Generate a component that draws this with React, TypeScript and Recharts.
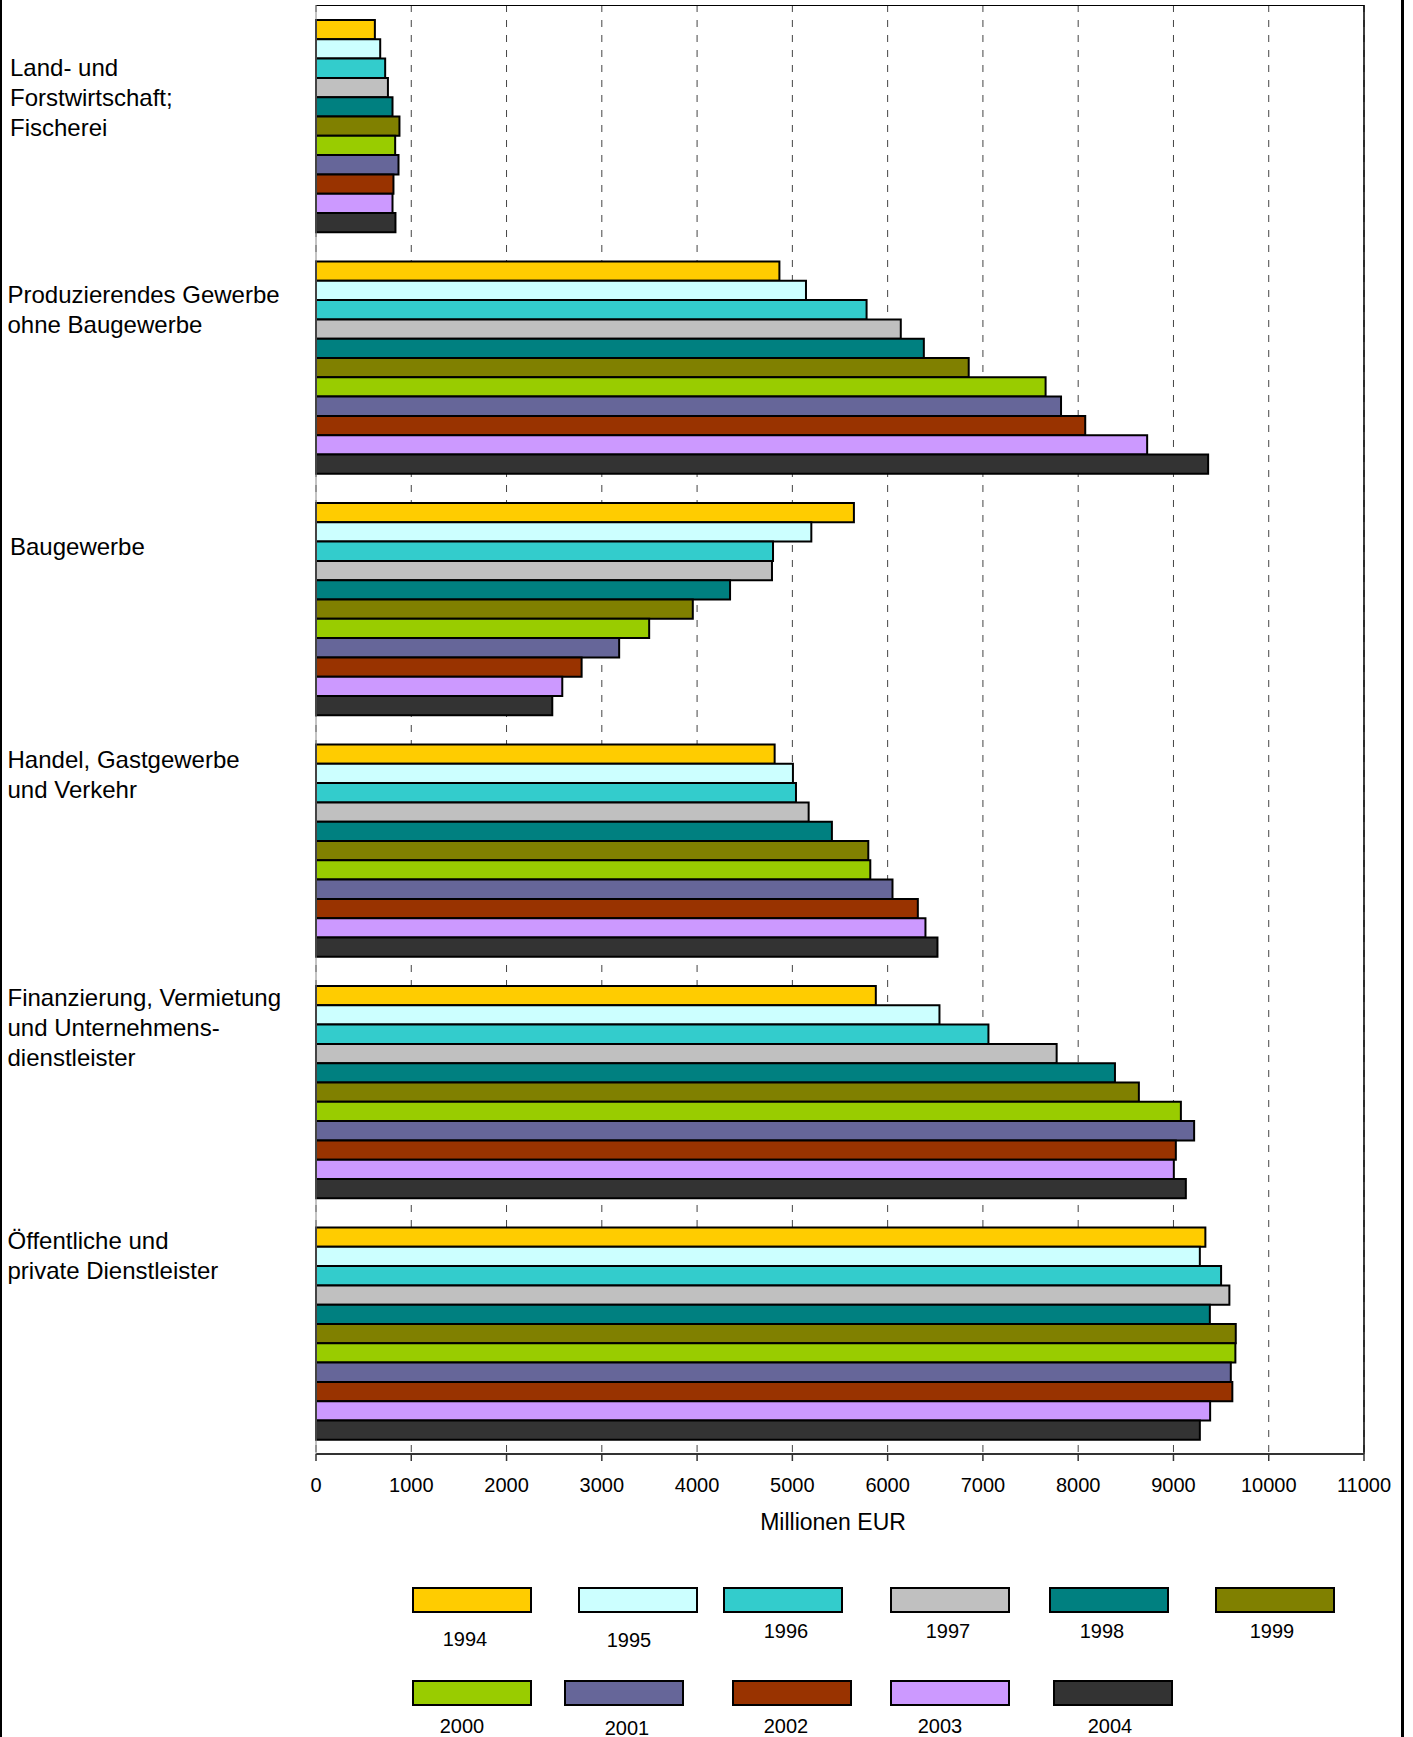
import React from 'react';
import { BarChart, Bar, XAxis, YAxis, CartesianGrid, ReferenceLine, Legend } from 'recharts';

// ---------- data ----------
const categories = [
  'Land- und\nForstwirtschaft;\nFischerei',
  'Produzierendes Gewerbe\nohne Baugewerbe',
  'Baugewerbe',
  'Handel, Gastgewerbe\nund Verkehr',
  'Finanzierung, Vermietung\nund Unternehmens-\ndienstleister',
  'Öffentliche und\nprivate Dienstleister',
];

const years = ['1994', '1995', '1996', '1997', '1998', '1999', '2000', '2001', '2002', '2003', '2004'];

const v1994 = [618, 4864, 5646, 4814, 5876, 9335];
const v1995 = [674, 5143, 5199, 5006, 6544, 9277];
const v1996 = [726, 5779, 4797, 5038, 7058, 9500];
const v1997 = [755, 6138, 4786, 5171, 7774, 9587];
const v1998 = [803, 6380, 4346, 5415, 8386, 9382];
const v1999 = [876, 6851, 3955, 5797, 8637, 9654];
const v2000 = [831, 7658, 3497, 5818, 9078, 9650];
const v2001 = [866, 7820, 3182, 6051, 9217, 9602];
const v2002 = [813, 8074, 2788, 6317, 9025, 9618];
const v2003 = [803, 8724, 2585, 6397, 9004, 9385];
const v2004 = [834, 9364, 2480, 6523, 9130, 9277];

const xTicks = [0, 1000, 2000, 3000, 4000, 5000, 6000, 7000, 8000, 9000, 10000, 11000];
const axisTitle = 'Millionen EUR';

// ---------- styles ----------
const seriesValues = [v1994, v1995, v1996, v1997, v1998, v1999, v2000, v2001, v2002, v2003, v2004];
const colors = [
  '#FFCC00', '#CCFFFF', '#33CCCC', '#C0C0C0', '#008080', '#808000',
  '#99CC00', '#666699', '#993300', '#CC99FF', '#333333',
];

const chartData = categories.map((name, i) => {
  const row: Record<string, string | number> = { name };
  years.forEach((y, s) => {
    row[y] = seriesValues[s][i];
  });
  return row;
});

const FONT = '"Liberation Sans", Arial, sans-serif';

// per-category label placement (x, offset of first line center from band center)
const labelLayout = [
  { x: 10, dy: -58 },
  { x: 7.5, dy: -73 },
  { x: 10, dy: -62 },
  { x: 7.5, dy: -91 },
  { x: 7.5, dy: -94 },
  { x: 7.5, dy: -93 },
];

// legend layout: box left/top, label center
const legendLayout = [
  { bx: 412, by: 1587, lx: 465, ly: 1639 },
  { bx: 578, by: 1587, lx: 629, ly: 1640 },
  { bx: 723, by: 1587, lx: 786, ly: 1631 },
  { bx: 890, by: 1587, lx: 948, ly: 1631 },
  { bx: 1049, by: 1587, lx: 1102, ly: 1631 },
  { bx: 1215, by: 1587, lx: 1272, ly: 1631 },
  { bx: 412, by: 1680, lx: 462, ly: 1726 },
  { bx: 564, by: 1680, lx: 627, ly: 1728 },
  { bx: 732, by: 1680, lx: 786, ly: 1726 },
  { bx: 890, by: 1680, lx: 940, ly: 1726 },
  { bx: 1053, by: 1680, lx: 1110, ly: 1726 },
];

const CategoryTick = (props: any) => {
  const { y, payload, index } = props;
  const lines = String(payload.value).split('\n');
  const lay = labelLayout[index] || { x: 8, dy: -60 };
  const first = y + lay.dy + 8.5;
  return (
    <text x={lay.x} y={first} fontFamily={FONT} fontSize={24} fill="#000" textAnchor="start">
      {lines.map((ln, i) => (
        <tspan key={i} x={lay.x} y={first + i * 30}>
          {ln}
        </tspan>
      ))}
    </text>
  );
};

const renderLegend = (props: any) => {
  const payload = props.payload || [];
  return (
    <div style={{ position: 'relative', width: 1413, height: 1737 }}>
      {payload.map((p: any, i: number) => {
        const l = legendLayout[i];
        if (!l) return null;
        return (
          <React.Fragment key={i}>
            <div
              style={{
                position: 'absolute',
                left: l.bx,
                top: l.by,
                width: 120,
                height: 26,
                boxSizing: 'border-box',
                background: p.color,
                border: '2px solid #000',
              }}
            />
            <div
              style={{
                position: 'absolute',
                left: l.lx,
                top: l.ly,
                transform: 'translate(-50%, -50%)',
                fontFamily: FONT,
                fontSize: 20,
                lineHeight: '20px',
                color: '#000',
                whiteSpace: 'nowrap',
              }}
            >
              {p.value}
            </div>
          </React.Fragment>
        );
      })}
    </div>
  );
};

const AxisTitle = (props: any) => {
  const vb = props.viewBox || { x: 316, y: 1454, width: 1048 };
  return (
    <text
      x={vb.x + vb.width / 2 - 7}
      y={vb.y + 76}
      textAnchor="middle"
      fontFamily={FONT}
      fontSize={23}
      fill="#000"
    >
      {axisTitle}
    </text>
  );
};

export default function App() {
  return (
    <div style={{ position: 'absolute', left: 0, top: 0, width: 1413, height: 1737, background: '#fff' }}>
      <div style={{ position: 'absolute', left: 0, top: 0, width: 2, height: 1737, background: '#000' }} />
      <div style={{ position: 'absolute', left: 1401, top: 0, width: 3, height: 1737, background: '#000' }} />
      <BarChart
        width={1413}
        height={1737}
        data={chartData}
        layout="vertical"
        margin={{ top: 5, right: 49, bottom: 0, left: 0 }}
        barCategoryGap="6%"
        barGap={0}
        barSize={19.3}
      >
        <CartesianGrid
          horizontal={false}
          vertical={true}
          stroke="#444"
          strokeDasharray="7 8"
        />
        <CartesianGrid
          horizontal={true}
          vertical={false}
          horizontalPoints={[5.5]}
          stroke="#000"
          strokeWidth={1}
        />
        <XAxis
          type="number"
          domain={[0, 11000]}
          ticks={xTicks}
          interval={0}
          height={283}
          tickSize={7}
          tickMargin={17}
          axisLine={{ stroke: '#333', strokeWidth: 2 }}
          tickLine={{ stroke: '#333', strokeWidth: 1.5 }}
          tick={{ fontFamily: FONT, fontSize: 20, fill: '#000' }}
          label={<AxisTitle />}
        />
        <YAxis
          type="category"
          dataKey="name"
          width={316}
          interval={0}
          tickLine={false}
          axisLine={{ stroke: '#888', strokeWidth: 1 }}
          tick={<CategoryTick />}
        />
        <ReferenceLine x={11000} stroke="#000" strokeWidth={1.5} />
        <Legend
          layout="horizontal"
          verticalAlign="middle"
          align="center"
          wrapperStyle={{ left: 0, top: 0, width: 1413, height: 1737, pointerEvents: 'none' }}
          content={renderLegend}
        />
        {years.map((y, i) => (
          <Bar
            key={y}
            dataKey={y}
            name={y}
            fill={colors[i]}
            stroke="#000"
            strokeWidth={2}
            isAnimationActive={false}
          />
        ))}
      </BarChart>
    </div>
  );
}
